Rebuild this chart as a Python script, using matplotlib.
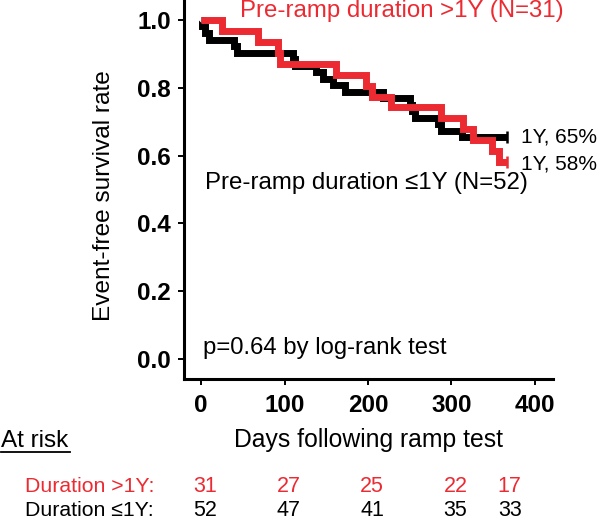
import matplotlib
matplotlib.use("Agg")
import matplotlib.pyplot as plt
import matplotlib.transforms as mtransforms
from matplotlib.lines import Line2D

plt.rcParams['font.family'] = ['Liberation Sans', 'DejaVu Sans']

# ---- data ----
black_times = [0, 1, 5, 9, 40, 43, 110, 113, 138, 146, 158, 172, 218, 250, 253, 256, 284, 288, 312, 366]
black_surv = [1.0, 0.981, 0.962, 0.942, 0.923, 0.904, 0.885, 0.865, 0.846, 0.827, 0.808, 0.788,
              0.769, 0.750, 0.731, 0.712, 0.692, 0.673, 0.654, 0.654]

red_times = [0, 25, 68, 92, 94, 162, 198, 205, 228, 288, 314, 326, 348, 357, 366]
red_surv = [1.0, 0.968, 0.935, 0.903, 0.871, 0.839, 0.806, 0.774, 0.742, 0.710, 0.677, 0.645,
            0.613, 0.581, 0.581]

x_ticks = [0, 100, 200, 300, 400]
y_ticks = [0.0, 0.2, 0.4, 0.6, 0.8, 1.0]

risk_days = [0, 100, 200, 300, 365]
risk_red = [31, 27, 25, 22, 17]
risk_black = [52, 47, 41, 35, 33]

label_red = "Pre-ramp duration >1Y (N=31)"
label_black = "Pre-ramp duration \u22641Y (N=52)"
end_red = "1Y, 58%"
end_black = "1Y, 65%"
p_text = "p=0.64 by log-rank test"
row_red = "Duration >1Y:"
row_black = "Duration \u22641Y:"

RED = '#EC2A32'
W, H = 600, 522

fig = plt.figure(figsize=(6.0, 5.22), dpi=100)
ax = fig.add_axes([184 / W, 143 / H, (553 - 184) / W, 379 / H])

ax.step(black_times, black_surv, where='post', color='black', lw=5.0,
        solid_joinstyle='miter', solid_capstyle='butt', zorder=3)
ax.step(red_times, red_surv, where='post', color=RED, lw=5.0,
        solid_joinstyle='miter', solid_capstyle='butt', zorder=4)
# censor marks at end of follow-up
ax.plot(black_times[-1:], black_surv[-1:], marker='|', ms=9, mew=1.8, color='black', zorder=5)
ax.plot(red_times[-1:], red_surv[-1:], marker='|', ms=9, mew=1.8, color=RED, zorder=5)

ax.set_xlim(-20.4, 421.6)
ax.set_ylim(-0.059, 1.059)
ax.set_xticks(x_ticks)
ax.set_yticks(y_ticks)
ax.set_xticklabels([str(v) for v in x_ticks])
ax.set_yticklabels([f"{v:.1f}" for v in y_ticks])
for lab in ax.get_xticklabels() + ax.get_yticklabels():
    lab.set_fontsize(17.5)
    lab.set_fontweight('bold')
ax.tick_params(axis='both', direction='out', length=4.5, width=1.4, pad=5)
ax.tick_params(axis='x', pad=6)

for s in ['top', 'right']:
    ax.spines[s].set_visible(False)
for s in ['left', 'bottom']:
    ax.spines[s].set_linewidth(2.2)
ax.patch.set_alpha(0)

def fx(px):
    return px / W

def fy(py):
    return 1 - py / H

fig.text(fx(240), fy(11), label_red, color=RED, fontsize=17.3, ha='left', va='center')
fig.text(fx(205), fy(183), label_black, color='black', fontsize=17.3, ha='left', va='center')
fig.text(fx(521), fy(137), end_black, color='black', fontsize=15, ha='left', va='center')
fig.text(fx(521), fy(164), end_red, color='black', fontsize=15, ha='left', va='center')
fig.text(fx(203), fy(348), p_text, color='black', fontsize=17.2, ha='left', va='center')

fig.text(fx(104), fy(196), "Event-free survival rate", rotation=90, fontsize=17.6,
         ha='center', va='center')
fig.text(fx(368), fy(440), "Days following ramp test", fontsize=17.8, ha='center', va='center')

fig.text(fx(1), fy(441), "At risk", fontsize=17.5, ha='left', va='center')
fig.add_artist(Line2D([fx(1), fx(70)], [fy(452), fy(452)], color='black', lw=1.3,
                      transform=fig.transFigure))

fig.text(fx(154), fy(486), row_red, color=RED, fontsize=15.3, ha='right', va='center')
fig.text(fx(154), fy(510), row_black, color='black', fontsize=15.3, ha='right', va='center')

trans = mtransforms.blended_transform_factory(ax.transData, fig.transFigure)
off = mtransforms.ScaledTranslation(4 / 100, 0, fig.dpi_scale_trans)
for d, r, b in zip(risk_days, risk_red, risk_black):
    fig.text(d, fy(486), str(r), color=RED, fontsize=15.5, ha='center', va='center',
             transform=trans + off)
    fig.text(d, fy(510), str(b), color='black', fontsize=15.5, ha='center', va='center',
             transform=trans + off)

fig.savefig("out.png", dpi=100)
